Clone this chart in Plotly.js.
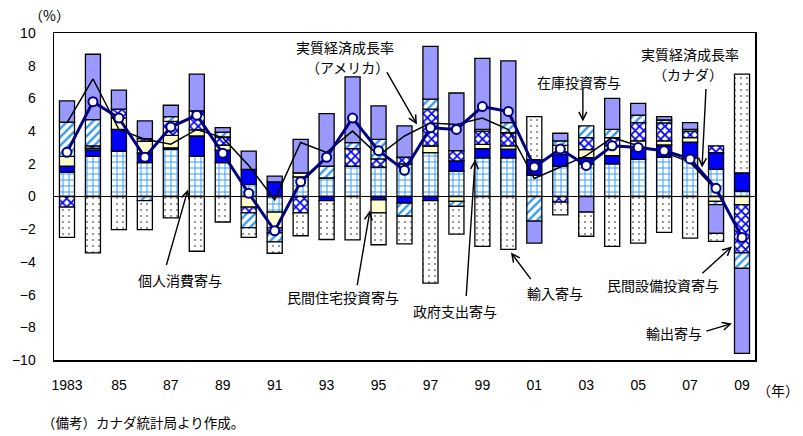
<!DOCTYPE html>
<html>
<head>
<meta charset="utf-8">
<script src="https://cdn.plot.ly/plotly-3.0.1.min.js"></script>
<style>
  html, body { margin: 0; padding: 0; background: #ffffff; }
  #chart { width: 803px; height: 436px; }
</style>
</head>
<body>
<div id="chart"></div>
<script>
// Canada: real GDP growth and contributions by demand component (% points)
const years = [1983, 1984, 1985, 1986, 1987, 1988, 1989, 1990, 1991, 1992, 1993, 1994, 1995, 1996,
               1997, 1998, 1999, 2000, 2001, 2002, 2003, 2004, 2005, 2006, 2007, 2008, 2009];

const consumption = [1.50, 2.45, 2.78, 2.07, 2.88, 2.47, 2.07, 0.74, -0.96, 1.20, 1.14, 1.86, 1.80, 2.00,
                     2.68, 1.55, 2.37, 2.37, 1.30, 1.86, 1.96, 2.00, 2.27, 2.40, 2.37, 1.66, 0.33];
const government  = [0.35, 0.40, 1.33, 0.60, 0.10, 1.23, 0.77, 0.92, 0.90, 0.00, -0.25, 0.00, -0.20, -0.40,
                     -0.25, 0.62, 0.56, 0.53, 0.95, 0.72, 0.41, 0.50, 0.63, 0.75, 0.96, 1.02, 1.12];
const housing     = [0.60, 0.10, 0.70, 0.70, 0.76, 0.37, 0.30, -0.65, -0.96, 0.25, 0.00, 0.00, -0.80, 0.00,
                     0.41, -0.30, 0.26, 0.20, 0.00, 0.55, 0.50, 0.60, 0.50, 0.25, 0.27, -0.30, -0.50];
const equipment   = [-0.65, 0.15, 0.53, 0.17, 0.85, 1.17, 0.50, -0.35, -0.30, -1.00, 0.00, 1.07, 0.50, 0.40,
                     2.25, 0.63, 0.81, 0.80, 0.00, -0.35, 0.73, 0.50, 1.12, 1.10, 0.40, 0.42, -2.95];
const inventory   = [2.10, 1.60, 0.00, -0.25, 0.30, 0.00, 0.30, -0.90, -0.55, 0.00, 0.72, 0.36, 1.20, -0.80,
                     0.61, -0.30, 0.11, 0.62, -1.50, 0.27, 0.72, 0.50, 0.45, 0.18, 0.11, -0.20, -0.95];
const exports     = [1.30, 4.00, 1.16, 1.08, 0.69, 2.25, 0.27, 1.12, 0.35, 2.05, 3.21, 4.03, 2.04, 1.92,
                     3.23, 3.53, 4.34, 3.78, -1.35, 0.47, -0.96, 1.90, 0.73, 0.21, 0.41, -1.75, -5.20];
const imports     = [-1.85, -3.45, -2.02, -1.77, -1.31, -3.35, -1.56, -0.60, -0.70, -1.40, -2.38, -2.65, -1.95, -1.70,
                     -5.05, -1.70, -3.05, -3.23, 2.64, -0.77, -1.47, -3.05, -2.85, -2.20, -2.55, -0.50, 6.04];

const growthCanada = [2.7, 5.8, 4.8, 2.4, 4.25, 4.97, 2.64, 0.2, -2.1, 0.9, 2.4, 4.8, 2.8, 1.6,
                      4.2, 4.1, 5.5, 5.2, 1.8, 2.9, 1.9, 3.1, 3.0, 2.8, 2.3, 0.5, -2.5];
const growthUS     = [4.5, 7.2, 4.1, 3.5, 3.2, 4.1, 3.6, 1.9, -0.2, 3.3, 2.7, 4.0, 2.5, 3.7,
                      4.5, 4.4, 4.8, 4.1, 1.1, 1.8, 2.5, 3.6, 3.1, 2.7, 2.1, 0.4, -2.4];

const tickYears  = [1983, 1985, 1987, 1989, 1991, 1993, 1995, 1997, 1999, 2001, 2003, 2005, 2007, 2009];
const tickLabels = ['1983', '85', '87', '89', '91', '93', '95', '97', '99', '01', '03', '05', '07', '09'];

const componentNames = ['個人消費寄与', '政府支出寄与', '民間住宅投資寄与', '民間設備投資寄与',
                        '在庫投資寄与', '輸出寄与', '輸入寄与'];

const outline = { color: '#000000', width: 1.3 };
const barWidth = 0.58;

function barTrace(name, values, marker) {
  return {
    type: 'bar', name: name, x: years, y: values, width: barWidth,
    marker: Object.assign({ line: outline }, marker),
    hoverinfo: 'skip'
  };
}

const traces = [
  barTrace(componentNames[0], consumption, {
    color: '#ffffff',
    pattern: { shape: '+', fgcolor: '#3399ff', bgcolor: '#ffffff', size: 6, solidity: 0.3, fillmode: 'replace' }
  }),
  barTrace(componentNames[1], government, { color: '#0000ff' }),
  barTrace(componentNames[2], housing, { color: '#ffffcc' }),
  barTrace(componentNames[3], equipment, {
    color: '#ffffff',
    pattern: { shape: 'x', fgcolor: '#0000ff', bgcolor: '#ffffff', size: 6, solidity: 0.5, fillmode: 'replace' }
  }),
  barTrace(componentNames[4], inventory, {
    color: '#ffffff',
    pattern: { shape: '/', fgcolor: '#3399ee', bgcolor: '#ffffff', size: 6, solidity: 0.4, fillmode: 'replace' }
  }),
  barTrace(componentNames[5], exports, { color: '#9999ff' }),
  barTrace(componentNames[6], imports, {
    color: '#ffffff',
    pattern: { shape: '.', fgcolor: '#000000', bgcolor: '#ffffff', size: 6, solidity: 0.05, fillmode: 'replace' }
  }),
  {
    type: 'scatter', mode: 'lines', name: '実質経済成長率（アメリカ）',
    x: years, y: growthUS,
    line: { color: '#000000', width: 1.5 }, hoverinfo: 'skip'
  },
  {
    type: 'scatter', mode: 'lines+markers', name: '実質経済成長率（カナダ）',
    x: years, y: growthCanada,
    line: { color: '#000080', width: 3 },
    marker: { symbol: 'circle', size: 9, color: '#ffffff', line: { color: '#000080', width: 2 } },
    hoverinfo: 'skip'
  }
];

// plot area in pixels: x 54..755, y 33..360
const L = 54, R = 755, T = 33, B = 360;
const px = v => (v - L) / (R - L);
const py = v => (B - v) / (B - T);

const labelFont = { family: '"Noto Sans CJK JP", sans-serif', size: 14, color: '#000000' };

function label(text, cx, cy, anchor) {
  return {
    xref: 'paper', yref: 'paper', x: px(cx), y: py(cy), text: text,
    showarrow: false, xanchor: anchor || 'center', yanchor: 'middle', font: labelFont,
    borderpad: 0
  };
}

function arrow(x, y, ax, ay) {
  return {
    xref: 'x', yref: 'y', x: x, y: y, ax: ax, ay: ay, text: '',
    showarrow: true, arrowhead: 5, arrowsize: 1.1, arrowwidth: 1.4, arrowcolor: '#000000',
    standoff: 0, startstandoff: 0
  };
}

const annotations = [
  label('実質経済成長率', 345, 47),
  label('（アメリカ）', 347, 67),
  arrow(1996.48, 4.4, -31, -54),
  label('在庫投資寄与', 579, 82),
  arrow(2002.87, 4.59, 0, -34),
  label('実質経済成長率', 690, 54),
  label('（カナダ）', 688, 74),
  arrow(2007.46, 1.77, 4, -80),
  label('個人消費寄与', 180, 280),
  arrow(1987.66, 0.43, -22, 77),
  label('民間住宅投資寄与', 343, 297),
  arrow(1994.67, -0.86, -13, 76),
  label('政府支出寄与', 455, 311),
  arrow(1998.72, 2.26, -9, 138),
  label('輸入寄与', 555, 293),
  arrow(2000.1, -3.43, 21, 28),
  label('民間設備投資寄与', 663, 285),
  arrow(2008.61, -3.06, -31, 28),
  label('輸出寄与', 674, 333),
  arrow(2008.61, -7.77, -27, 8),
  label('（%）', 49, 15),
  label('（年）', 778, 390),
  {
    xref: 'paper', yref: 'paper', x: px(40), y: py(422), text: '（備考）カナダ統計局より作成。',
    showarrow: false, xanchor: 'left', yanchor: 'middle',
    font: { family: '"Noto Sans CJK JP", sans-serif', size: 13.5, color: '#000000' }
  }
];

const tickFont = { family: '"Liberation Sans", Arial, sans-serif', size: 14, color: '#000000' };

const layout = {
  width: 803, height: 436,
  margin: { l: L, r: 803 - R, t: T, b: 436 - B, pad: 0 },
  paper_bgcolor: '#ffffff', plot_bgcolor: '#ffffff',
  barmode: 'relative', bargap: 0,
  showlegend: false,
  xaxis: {
    range: [1982.5, 2009.5], tickmode: 'array', tickvals: tickYears, ticktext: tickLabels,
    showgrid: false, zeroline: false, ticks: '', showline: true, mirror: true,
    linecolor: '#000000', linewidth: 1.5, tickfont: tickFont, ticklabelstandoff: 12,
    fixedrange: true
  },
  yaxis: {
    range: [-10, 10], tickmode: 'linear', tick0: 0, dtick: 2,
    showgrid: false, zeroline: true, zerolinecolor: '#000000', zerolinewidth: 1.2,
    ticks: '', showline: true, mirror: true, linecolor: '#000000', linewidth: 1.5,
    tickfont: tickFont, ticklabelstandoff: 14, fixedrange: true
  },
  annotations: annotations
};

Plotly.newPlot('chart', traces, layout, { staticPlot: true, displayModeBar: false });
</script>
</body>
</html>
